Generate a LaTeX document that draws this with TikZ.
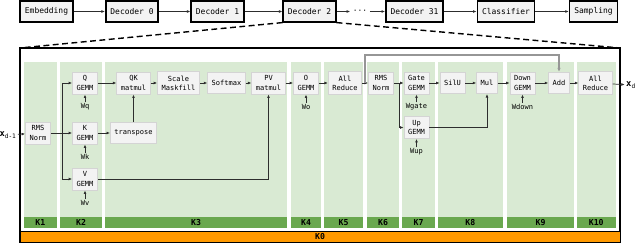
\documentclass[tikz,border=0pt]{standalone}
\usepackage{fontspec}
\setmonofont{DejaVu Sans Mono}
\usepackage{tikz}
\usetikzlibrary{arrows.meta}
\definecolor{figline}{RGB}{45,45,45}
\definecolor{figcol}{RGB}{217,234,211}
\definecolor{figbar}{RGB}{106,168,79}
\definecolor{figk0}{RGB}{255,153,0}
\definecolor{figop}{RGB}{243,243,243}
\definecolor{figedge}{RGB}{212,212,212}
\definecolor{figres}{RGB}{150,150,150}
\tikzset{
  blk/.style ={draw=black, fill=figop, line width=1.3pt, inner xsep=1.4mm, minimum height=6.2mm, font=\fontsize{6.8}{8}\selectfont\ttfamily},
  op/.style  ={draw=figedge, fill=figop, line width=0.6pt, inner xsep=1.2mm, minimum height=6.4mm, align=center, font=\fontsize{6}{7.8}\selectfont\ttfamily},
  wt/.style  ={font=\fontsize{6}{7}\selectfont\ttfamily, inner sep=1pt},
  lab/.style ={font=\fontsize{7}{8}\selectfont\ttfamily\bfseries, inner sep=0pt},
  col/.style ={fill=figcol},
  bar/.style ={fill=figbar},
  ptr/.style ={draw=figline, line width=0.6pt, -{Latex[length=3pt,width=2.4pt]}},
  res/.style ={draw=figres, line width=1.2pt, -{Latex[length=3.5pt,width=3pt]}},
  cut/.style ={draw=black, line width=1.2pt, dash pattern=on 5pt off 3pt},
}
\begin{document}
\begin{tikzpicture}[x=0.3mm,y=-0.3mm]
  \useasboundingbox (0,0) rectangle (640,243);
  \node[blk] (emb) at (46.5,11.5) {Embedding};
  \node[blk] (dec0) at (132,11.5) {Decoder 0};
  \node[blk] (dec1) at (217.5,11.5) {Decoder 1};
  \node[blk] (dec2) at (309.5,11.5) {Decoder 2};
  \node[font=\fontsize{6.8}{8}\selectfont\ttfamily, inner sep=2pt] (dots) at (360,11.5) {···};
  \node[blk] (dec31) at (414.5,11.5) {Decoder 31};
  \node[blk] (cls) at (506,11.5) {Classifier};
  \node[blk] (smp) at (593.5,11.5) {Sampling};
  \draw[ptr] (emb) -- (dec0);
  \draw[ptr] (dec0) -- (dec1);
  \draw[ptr] (dec1) -- (dec2);
  \draw[ptr] (dec2) -- (dots);
  \draw[ptr] (dots) -- (dec31);
  \draw[ptr] (dec31) -- (cls);
  \draw[ptr] (cls) -- (smp);
  \coordinate (otl) at (20,48);
  \coordinate (otr) at (620,48);
  \draw[cut] (dec2.south west) -- (otl);
  \draw[cut] (dec2.south east) -- (otr);
  \draw[line width=1.3pt] (otl) rectangle (620,242);
  \fill[col] (23.5,62) rectangle (57,228);
  \fill[bar] (23.5,217) rectangle (57,228);
  \node[lab] (k1) at (40.25,222.5) {K1};
  \fill[col] (60,62) rectangle (102,228);
  \fill[bar] (60,217) rectangle (102,228);
  \node[lab] (k2) at (81,222.5) {K2};
  \fill[col] (105,62) rectangle (287,228);
  \fill[bar] (105,217) rectangle (287,228);
  \node[lab] (k3) at (196,222.5) {K3};
  \fill[col] (291,62) rectangle (321,228);
  \fill[bar] (291,217) rectangle (321,228);
  \node[lab] (k4) at (306,222.5) {K4};
  \fill[col] (324,62) rectangle (363,228);
  \fill[bar] (324,217) rectangle (363,228);
  \node[lab] (k5) at (343.5,222.5) {K5};
  \fill[col] (367,62) rectangle (399,228);
  \fill[bar] (367,217) rectangle (399,228);
  \node[lab] (k6) at (383,222.5) {K6};
  \fill[col] (402,62) rectangle (435,228);
  \fill[bar] (402,217) rectangle (435,228);
  \node[lab] (k7) at (418.5,222.5) {K7};
  \fill[col] (437.5,62) rectangle (503,228);
  \fill[bar] (437.5,217) rectangle (503,228);
  \node[lab] (k8) at (470.25,222.5) {K8};
  \fill[col] (507,62) rectangle (574,228);
  \fill[bar] (507,217) rectangle (574,228);
  \node[lab] (k9) at (540.5,222.5) {K9};
  \fill[col] (576.5,62) rectangle (616,228);
  \fill[bar] (576.5,217) rectangle (616,228);
  \node[lab] (k10) at (596.25,222.5) {K10};
  \draw[fill=figk0, line width=0.8pt] (20,231.5) rectangle (620,242);
  \node[lab] (k0) at (320,236.8) {K0};
  \node[font=\fontsize{7.5}{8}\selectfont\ttfamily, inner sep=1pt] (xin) at (8,135) {\textbf{x}\textsubscript{d-1}};
  \node[font=\fontsize{7.5}{8}\selectfont\ttfamily, inner sep=1pt] (xout) at (631,85) {\textbf{x}\textsubscript{d}};
  \node[op] (rms1) at (38,133) {RMS\\Norm};
  \node[op] (qg) at (85,83) {Q\\GEMM};
  \node[op] (kg) at (85,133) {K\\GEMM};
  \node[op] (vg) at (85,179) {V\\GEMM};
  \node[wt] (wq) at (85,107) {Wq};
  \node[wt] (wk) at (85,157) {Wk};
  \node[wt] (wv) at (85,203) {Wv};
  \node[op] (qk) at (133.5,83) {QK\\matmul};
  \node[op] (tr) at (133.5,133) {transpose};
  \node[op] (scm) at (178.5,83) {Scale\\Maskfill};
  \node[op] (smx) at (226.5,83) {Softmax};
  \node[op] (pv) at (268.5,83) {PV\\matmul};
  \node[op] (og) at (306,83) {O\\GEMM};
  \node[wt] (wo) at (306,107) {Wo};
  \node[op] (ar1) at (345,83) {All\\Reduce};
  \node[op] (rms2) at (381,83) {RMS\\Norm};
  \node[op] (gg) at (416.5,83) {Gate\\GEMM};
  \node[wt] (wgate) at (416.5,107) {Wgate};
  \node[op] (upg) at (416.5,127.5) {Up\\GEMM};
  \node[wt] (wup) at (416.5,152) {Wup};
  \node[op] (silu) at (452.5,83) {SilU};
  \node[op] (mul) at (487,83) {Mul};
  \node[op] (dg) at (522.5,83) {Down\\GEMM};
  \node[wt] (wdown) at (522.5,107) {Wdown};
  \node[op] (add) at (559,83) {Add};
  \node[op] (ar2) at (595.5,83) {All\\Reduce};
  \coordinate (br1) at (62,133);
  \coordinate (br2) at (399.5,83);
  \coordinate (rs) at (365,83);
  \coordinate (rtop) at (365,55);
  \draw[ptr] (xin) -- (rms1);
  \draw[ptr] (rms1) -- (kg);
  \draw[ptr] (br1) |- (qg);
  \draw[ptr] (br1) |- (vg);
  \draw[ptr] (wq) -- (qg);
  \draw[ptr] (wk) -- (kg);
  \draw[ptr] (wv) -- (vg);
  \draw[ptr] (qg) -- (qk);
  \draw[ptr] (kg) -- (tr);
  \draw[ptr] (tr) -- (qk);
  \draw[ptr] (qk) -- (scm);
  \draw[ptr] (scm) -- (smx);
  \draw[ptr] (smx) -- (pv);
  \draw[ptr] (vg) -| (pv);
  \draw[ptr] (pv) -- (og);
  \draw[ptr] (wo) -- (og);
  \draw[ptr] (og) -- (ar1);
  \draw[ptr] (ar1) -- (rms2);
  \draw[res] (rs) -- (rtop) -| (add);
  \draw[ptr] (rms2) -- (gg);
  \draw[ptr] (br2) |- (upg);
  \draw[ptr] (wgate) -- (gg);
  \draw[ptr] (wup) -- (upg);
  \draw[ptr] (gg) -- (silu);
  \draw[ptr] (silu) -- (mul);
  \draw[ptr] (upg) -| (mul);
  \draw[ptr] (mul) -- (dg);
  \draw[ptr] (wdown) -- (dg);
  \draw[ptr] (dg) -- (add);
  \draw[ptr] (add) -- (ar2);
  \draw[ptr] (ar2) -- (xout);
\end{tikzpicture}
\end{document}
